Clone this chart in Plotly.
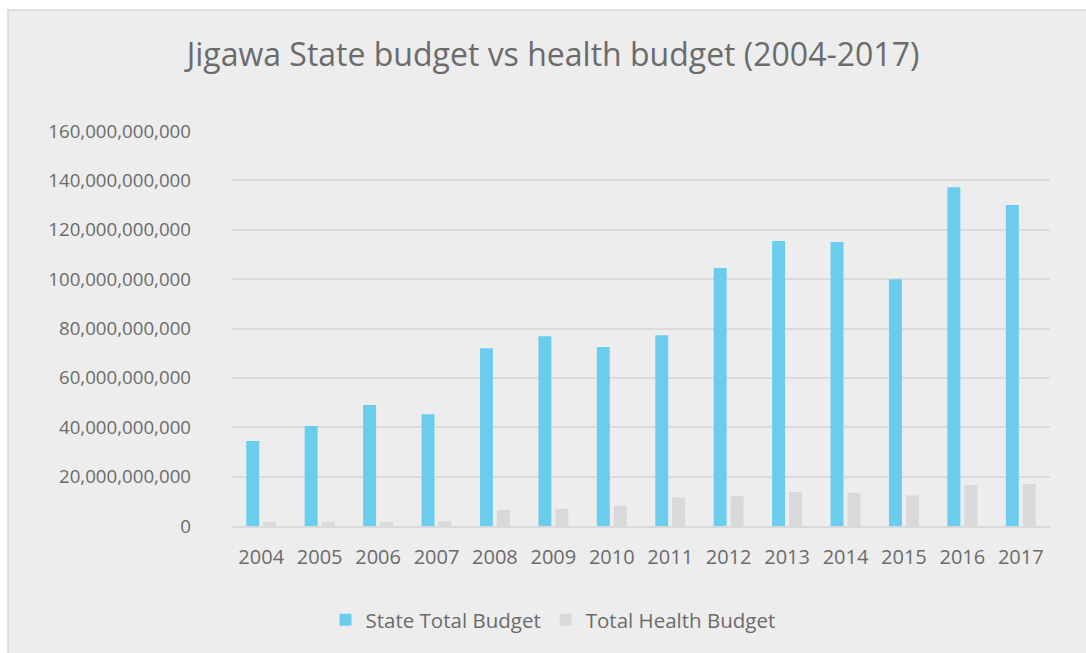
import plotly.graph_objects as go

years = ["2004", "2005", "2006", "2007", "2008", "2009", "2010",
         "2011", "2012", "2013", "2014", "2015", "2016", "2017"]
state_total_budget = [34.4e9, 40.5e9, 49.0e9, 45.3e9, 72.0e9, 76.9e9, 72.5e9,
                      77.3e9, 104.5e9, 115.4e9, 115.0e9, 100.0e9, 137.2e9, 130.0e9]
total_health_budget = [1.6e9, 1.6e9, 1.6e9, 2.0e9, 6.5e9, 7.0e9, 8.2e9,
                       11.6e9, 12.1e9, 13.8e9, 13.4e9, 12.4e9, 16.6e9, 17.0e9]

FONT = "Open Sans"
TEXT = "#6b6b6b"

fig = go.Figure()
fig.add_trace(go.Bar(x=years, y=state_total_budget, name="State Total Budget",
                     marker=dict(color="#6acdee", line=dict(width=0))))
fig.add_trace(go.Bar(x=years, y=total_health_budget, name="Total Health Budget",
                     marker=dict(color="#d9d9d9", line=dict(width=0))))

W, H = 1086, 653
L, R, T, B = 232, 36, 131, 127
pw, ph = W - L - R, H - T - B

def px_x(p):
    return (p - L) / pw

def px_y(p):
    return (H - B - p) / ph

# grey chart-area panel with a thin border on its top and left
fig.add_shape(type="rect", xref="paper", yref="paper", layer="below",
              x0=px_x(8), x1=px_x(1100), y0=px_y(670), y1=px_y(10),
              fillcolor="#ededed", line=dict(color="#d9d9d9", width=1.5))

fig.update_layout(
    width=W, height=H,
    margin=dict(l=L, r=R, t=T, b=B, pad=0),
    paper_bgcolor="white", plot_bgcolor="rgba(0,0,0,0)",
    font=dict(family=FONT, color=TEXT),
    title=dict(text="Jigawa State budget vs health budget (2004-2017)",
               x=553 / W, xref="container", xanchor="center",
               y=1 - 55 / H, yanchor="middle", yref="container",
               font=dict(size=32, color=TEXT, family=FONT)),
    barmode="group", bargap=0.42, bargroupgap=0.235,
    showlegend=True,
    legend=dict(orientation="h", x=px_x(553), xanchor="center",
                y=px_y(620), yanchor="middle",
                font=dict(size=20.5, color=TEXT, family=FONT),
                bgcolor="rgba(0,0,0,0)", itemwidth=30, tracegroupgap=0),
    xaxis=dict(showgrid=False, showline=True, linecolor="#d9d9d9", linewidth=2,
               ticks="", tickfont=dict(size=20, color=TEXT),
               ticklabelstandoff=12),
    yaxis=dict(range=[0, 160e9], tickvals=[i * 20e9 for i in range(9)],
               tickformat=",d", showgrid=True, gridcolor="#dcdcdc", gridwidth=2,
               zeroline=False, showline=False, ticks="",
               tickfont=dict(size=18.7, color=TEXT),
               ticklabelstandoff=40),
)

fig.write_html("out.html")
